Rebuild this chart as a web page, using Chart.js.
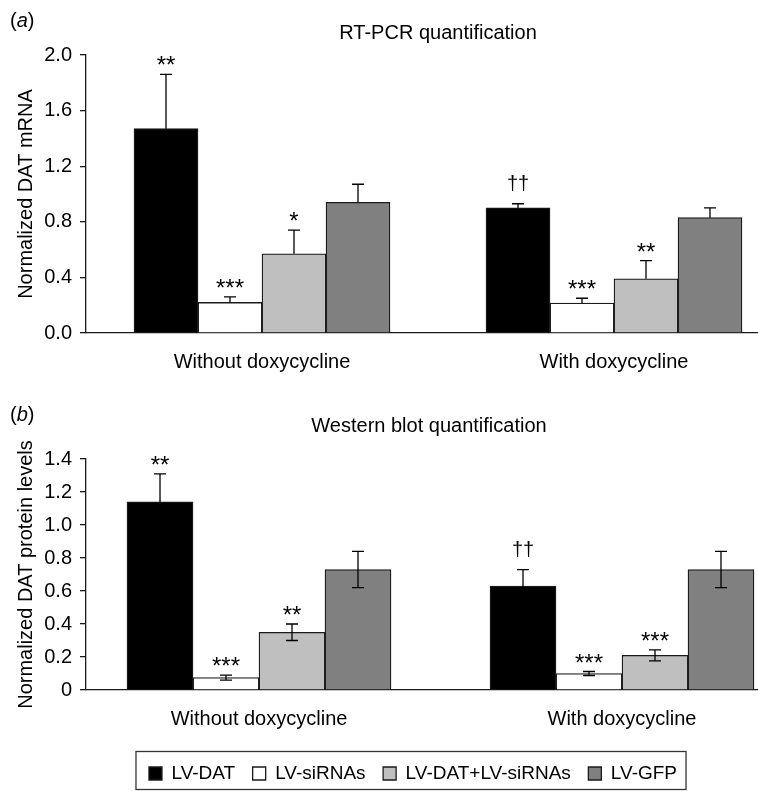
<!DOCTYPE html>
<html>
<head>
<meta charset="utf-8">
<script src="https://cdn.jsdelivr.net/npm/chart.js@4.4.1/dist/chart.umd.min.js"></script>
<style>
  html, body { margin: 0; padding: 0; background: #fff; overflow: hidden; width: 758px; height: 791px; }
  #wrapA { position: absolute; left: 0; top: 0; width: 800px; height: 380px; }
  #wrapB { position: absolute; left: 0; top: 380px; width: 826px; height: 413px; }
  .panel { position: absolute; left: 10px; font: 20px/24px "Liberation Sans", Arial, sans-serif; color: #000; }
</style>
</head>
<body>
<div id="wrapA"><canvas id="chartA"></canvas></div>
<div id="wrapB"><canvas id="chartB"></canvas></div>
<div class="panel" style="top:8px">(<i>a</i>)</div>
<div class="panel" style="top:402px">(<i>b</i>)</div>
<script>
var categories = ["Without doxycycline", "With doxycycline"];
var groups = ["LV-DAT", "LV-siRNAs", "LV-DAT+LV-siRNAs", "LV-GFP"];
var fills = ["#000000", "#ffffff", "#bfbfbf", "#808080"];

// (a) RT-PCR, normalized DAT mRNA
var mrnaDat = [1.47, 0.90];
var mrnaDatErr = [0.39, 0.03];
var mrnaSi = [0.22, 0.215];
var mrnaSiErr = [0.04, 0.035];
var mrnaBoth = [0.57, 0.39];
var mrnaBothErr = [0.17, 0.13];
var mrnaGfp = [0.94, 0.83];
var mrnaGfpErr = [0.13, 0.07];
var mrnaMarks = [["**", "††"], ["***", "***"], ["*", "**"], ["", ""]];
var mrnaTicks = [0, 0.4, 0.8, 1.2, 1.6, 2.0];
var mrnaTickLabels = ["0.0", "0.4", "0.8", "1.2", "1.6", "2.0"];

// (b) western blot, normalized DAT protein
var protDat = [1.14, 0.63];
var protDatErr = [0.17, 0.10];
var protSi = [0.075, 0.10];
var protSiErr = [0.015, 0.012];
var protBoth = [0.35, 0.21];
var protBothErr = [0.05, 0.033];
var protGfp = [0.73, 0.73];
var protGfpErr = [0.11, 0.11];
var protMarks = [["**", "††"], ["***", "***"], ["**", "***"], ["", ""]];
var protTicks = [0, 0.2, 0.4, 0.6, 0.8, 1.0, 1.2, 1.4];
var protTickLabels = ["0", "0.2", "0.4", "0.6", "0.8", "1.0", "1.2", "1.4"];

var FONT = '"Liberation Sans", Arial, sans-serif';
Chart.defaults.font.family = FONT;
Chart.defaults.font.size = 20;
Chart.defaults.color = "#000";

// error bars + significance marks, placed with the chart's own y scale
var errorBarPlugin = {
  id: "errorBars",
  afterDatasetsDraw: function (chart, args, opts) {
    var ctx = chart.ctx;
    var y = chart.scales.y;
    ctx.save();
    chart.data.datasets.forEach(function (ds, di) {
      var meta = chart.getDatasetMeta(di);
      meta.data.forEach(function (bar, i) {
        var v = ds.data[i].y;
        var e = ds.errors[i];
        var top = y.getPixelForValue(v + e);
        var low = opts.both ? y.getPixelForValue(v - e) : bar.y;
        ctx.strokeStyle = "#000";
        ctx.lineWidth = 1.3;
        ctx.beginPath();
        ctx.moveTo(bar.x, low);
        ctx.lineTo(bar.x, top);
        ctx.moveTo(bar.x - 6, top);
        ctx.lineTo(bar.x + 6, top);
        if (opts.both) {
          ctx.moveTo(bar.x - 6, low);
          ctx.lineTo(bar.x + 6, low);
        }
        ctx.stroke();

        var mark = ds.marks[i];
        if (mark) {
          ctx.fillStyle = "#000";
          ctx.textAlign = "center";
          ctx.textBaseline = "alphabetic";
          if (mark.charAt(0) === "*") {
            ctx.font = "24px " + FONT;
            ctx.fillText(mark, bar.x, top - 1);
          } else {
            ctx.font = "20px " + FONT;
            ctx.fillText(mark, bar.x, top - 14);
          }
        }
      });
    });
    ctx.restore();
  }
};

// frame round the legend row
var legendFrame = {
  id: "legendFrame",
  afterDraw: function (chart) {
    var lg = chart.legend;
    if (!lg || !lg.options.display) return;
    var ctx = chart.ctx;
    var pad = lg.options.labels.padding;
    var x0 = (lg.left + pad + lg.right - lg.lineWidths[0]) / 2;
    var x1 = x0 + lg.lineWidths[0] - pad;
    var cy = lg.top + pad + 19 / 2;
    ctx.save();
    ctx.strokeStyle = "#333";
    ctx.lineWidth = 1.3;
    ctx.strokeRect(x0 - 13, cy - 22, x1 - x0 + 22, 38);
    ctx.restore();
  }
};

function makeSets(values, errors, marks) {
  return groups.map(function (g, k) {
    return {
      label: g,
      data: values[k].map(function (v, i) { return { x: i + 1, y: v }; }),
      errors: errors[k],
      marks: marks[k],
      backgroundColor: fills[k],
      borderColor: "#1a1a1a",
      borderWidth: 1.3
    };
  });
}

function makeChart(id, cfg) {
  var scales = {
    x: {
      type: "linear",
      min: cfg.xMin,
      max: cfg.xMax,
      offset: false,
      grid: { display: false, drawTicks: false },
      border: { display: true, color: "#1a1a1a", width: 1.3 },
      ticks: {
        padding: 17,
        callback: function (v, i) { return categories[i]; }
      },
      afterBuildTicks: function (s) {
        s.ticks = categories.map(function (c, i) { return { value: i + 1 }; });
      },
      afterFit: function (s) { s.height = cfg.xHeight; }
    },
    y: {
      type: "linear",
      min: 0,
      max: cfg.yMax,
      grid: { drawOnChartArea: false, tickLength: 6, color: "#1a1a1a", lineWidth: 1.3 },
      border: { display: true, color: "#1a1a1a", width: 1.3 },
      ticks: {
        padding: 8,
        callback: function (v, i) { return cfg.tickLabels[i]; }
      },
      afterBuildTicks: function (s) {
        s.ticks = cfg.ticks.map(function (v) { return { value: v }; });
      },
      title: { display: true, text: cfg.yTitle, padding: { top: 14, bottom: 0 } },
      afterFit: function (s) { s.width = 86; }
    }
  };
  if (cfg.rightGap) {
    scales.y2 = {
      type: "linear",
      position: "right",
      grid: { display: false, drawTicks: false },
      border: { display: false },
      ticks: { display: false },
      afterFit: function (s) { s.width = cfg.rightGap; }
    };
  }

  return new Chart(document.getElementById(id), {
    type: "bar",
    data: { datasets: makeSets(cfg.values, cfg.errors, cfg.marks) },
    options: {
      responsive: true,
      maintainAspectRatio: false,
      animation: false,
      datasets: { bar: { barThickness: cfg.barWidth } },
      layout: { padding: { left: 0, right: cfg.padRight, top: 0, bottom: 0 } },
      plugins: {
        title: {
          display: true,
          text: cfg.title,
          fullSize: false,
          font: { size: 20, weight: "normal" },
          padding: cfg.titlePad
        },
        legend: {
          display: cfg.legend,
          position: "bottom",
          labels: { boxWidth: 13, boxHeight: 13, padding: 17.5, font: { size: 19 } }
        },
        tooltip: { enabled: false },
        errorBars: { both: cfg.both }
      },
      scales: scales
    },
    plugins: [errorBarPlugin, legendFrame]
  });
}

makeChart("chartA", {
  title: "RT-PCR quantification",
  yTitle: "Normalized DAT mRNA",
  values: [mrnaDat, mrnaSi, mrnaBoth, mrnaGfp],
  errors: [mrnaDatErr, mrnaSiErr, mrnaBothErr, mrnaGfpErr],
  marks: mrnaMarks,
  ticks: mrnaTicks,
  tickLabels: mrnaTickLabels,
  yMax: 2.0,
  xMin: 0.5,
  xMax: 2.5,
  barWidth: 64,
  padRight: 10,
  titlePad: { top: 21, bottom: 10 },
  xHeight: 47,
  both: false,
  legend: false
});

makeChart("chartB", {
  title: "Western blot quantification",
  yTitle: "Normalized DAT protein levels",
  values: [protDat, protSi, protBoth, protGfp],
  errors: [protDatErr, protSiErr, protBothErr, protGfpErr],
  marks: protMarks,
  ticks: protTicks,
  tickLabels: protTickLabels,
  yMax: 1.4,
  xMin: 0.5234,
  xMax: 2.4132,
  barWidth: 66,
  padRight: 0,
  rightGap: 54,
  titlePad: { top: 34, bottom: 21 },
  xHeight: 56.5,
  both: true,
  legend: true
});
</script>
</body>
</html>
